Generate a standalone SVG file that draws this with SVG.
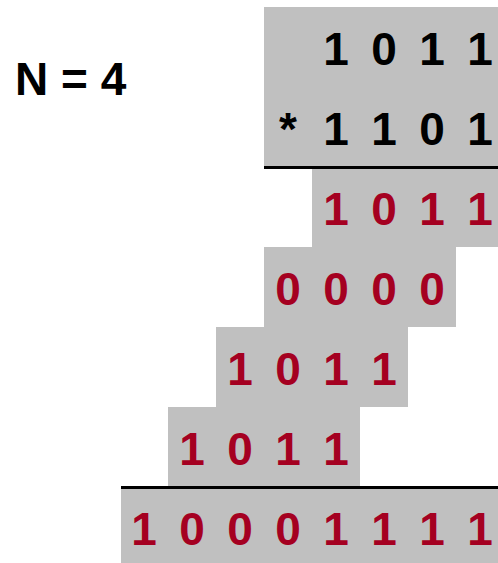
<svg xmlns="http://www.w3.org/2000/svg" width="498" height="563" viewBox="0 0 498 563">
<style>
.bg{fill:#c0c0c0}
.d{font-family:"Liberation Sans",Arial,sans-serif;font-weight:bold;font-size:46px;text-anchor:middle}
.k{fill:#000}
.r{fill:#a50021}
.rule{stroke:#000;stroke-width:3}
</style>
<rect width="498" height="563" fill="#fff"/>
<g id="label">
<text x="15" y="95" class="d k" style="text-anchor:start">N = 4</text>
</g>
<g id="operands">
<rect class="bg" x="264" y="7" width="234" height="159"/>
<text class="d k" y="65"><tspan x="336">1</tspan><tspan x="384">0</tspan><tspan x="432">1</tspan><tspan x="480">1</tspan></text>
<text class="d k" y="145"><tspan x="288">*</tspan><tspan x="336">1</tspan><tspan x="384">1</tspan><tspan x="432">0</tspan><tspan x="480">1</tspan></text>
</g>
<g id="rules">
<line class="rule" x1="264" y1="167.5" x2="498" y2="167.5"/>
<line class="rule" x1="121" y1="487.5" x2="498" y2="487.5"/>
</g>
<g id="partial1">
<rect class="bg" x="312" y="169" width="186" height="78"/>
<text class="d r" y="225"><tspan x="336">1</tspan><tspan x="384">0</tspan><tspan x="432">1</tspan><tspan x="480">1</tspan></text>
</g>
<g id="partial2">
<rect class="bg" x="264" y="247" width="192" height="80"/>
<text class="d r" y="305"><tspan x="288">0</tspan><tspan x="336">0</tspan><tspan x="384">0</tspan><tspan x="432">0</tspan></text>
</g>
<g id="partial3">
<rect class="bg" x="216" y="327" width="192" height="80"/>
<text class="d r" y="385"><tspan x="240">1</tspan><tspan x="288">0</tspan><tspan x="336">1</tspan><tspan x="384">1</tspan></text>
</g>
<g id="partial4">
<rect class="bg" x="168" y="407" width="192" height="79"/>
<text class="d r" y="465"><tspan x="192">1</tspan><tspan x="240">0</tspan><tspan x="288">1</tspan><tspan x="336">1</tspan></text>
</g>
<g id="result">
<rect class="bg" x="121" y="489" width="377" height="74"/>
<text class="d r" y="545"><tspan x="144">1</tspan><tspan x="192">0</tspan><tspan x="240">0</tspan><tspan x="288">0</tspan><tspan x="336">1</tspan><tspan x="384">1</tspan><tspan x="432">1</tspan><tspan x="480">1</tspan></text>
</g>
</svg>
